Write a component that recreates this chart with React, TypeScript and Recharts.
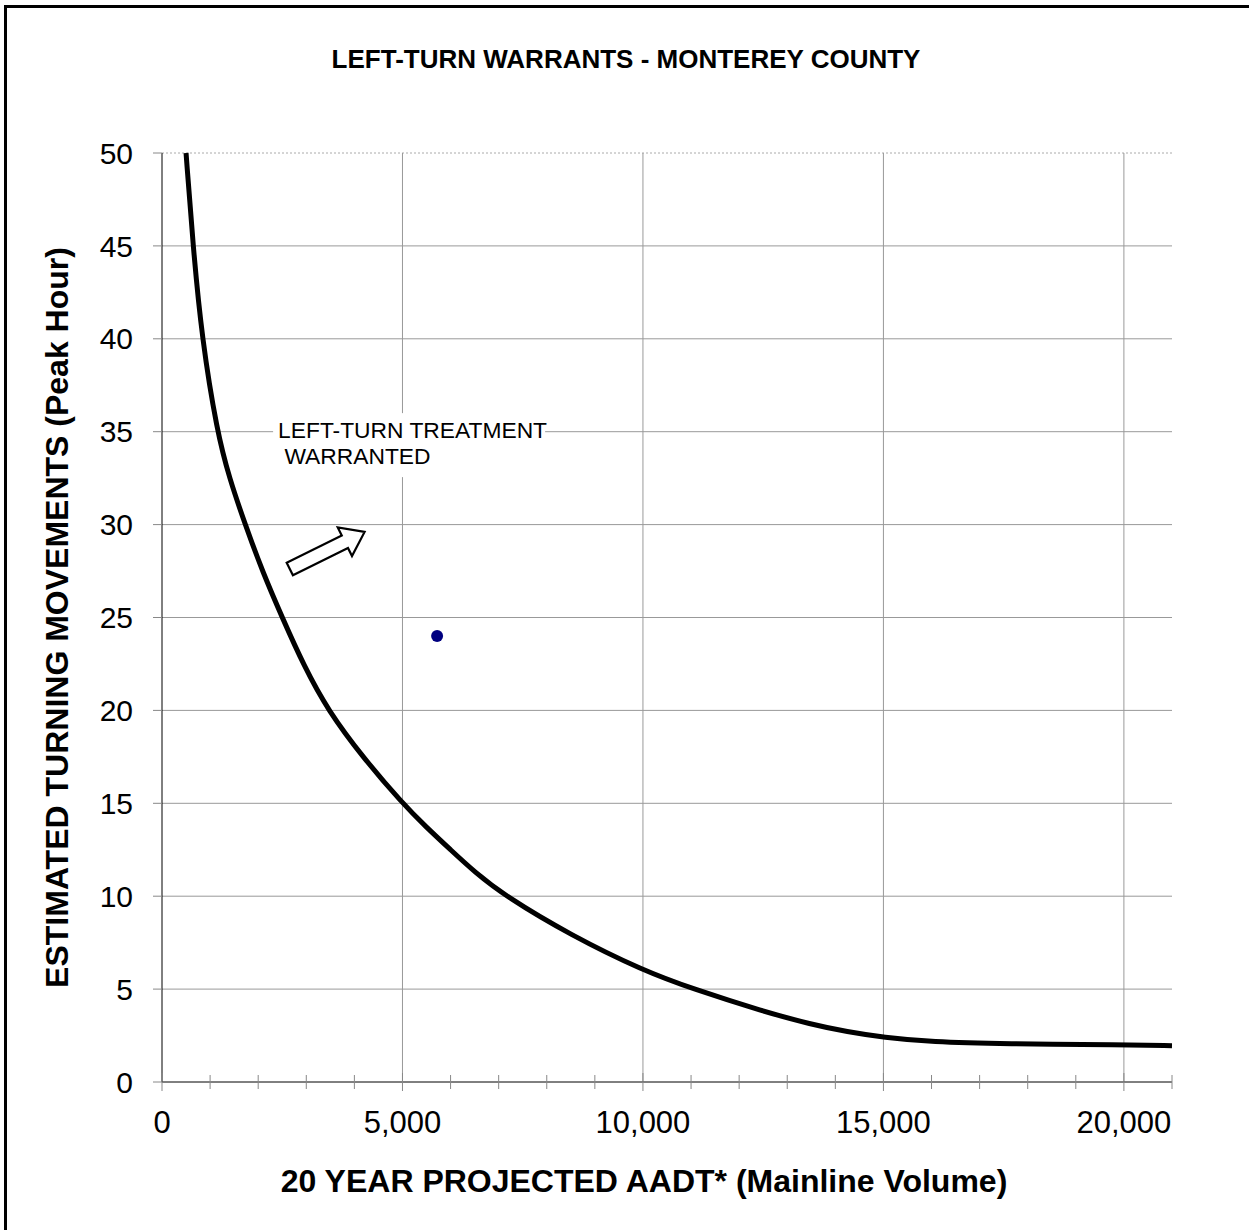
import React from 'react';
import {
    ComposedChart, Line, Scatter, XAxis, YAxis, CartesianGrid,
    ReferenceLine, ReferenceDot, Label,
} from 'recharts';

// warrant curve
const curveAadt = [500, 645, 830, 1145, 1400, 1730, 2100, 2500, 2950, 3450, 4200, 5000, 5500, 6000, 6500, 7140, 8500, 10000, 11050, 12500, 13500, 14250, 15000, 16000, 17500, 20000, 21000];
const curveTurns = [50, 45, 40, 35, 32.5, 30, 27.4, 25, 22.4, 20, 17.4, 15, 13.7, 12.5, 11.3, 10, 7.9, 6.0, 5, 3.8, 3.1, 2.7, 2.4, 2.15, 2.05, 2.0, 1.95];

// the one surveyed intersection
const siteAadt = [5720];
const siteTurns = [24];

const xTicks = [0, 1000, 2000, 3000, 4000, 5000, 6000, 7000, 8000, 9000, 10000, 11000, 12000, 13000, 14000, 15000, 16000, 17000, 18000, 19000, 20000, 21000];
const xGrid = [5000, 10000, 15000, 20000];
const yTicks = [0, 5, 10, 15, 20, 25, 30, 35, 40, 45, 50];
const yGrid = [5, 10, 15, 20, 25, 30, 35, 40, 45];

const noteLines = ['LEFT-TURN TREATMENT', ' WARRANTED'];
const noteAnchor = { x: 2310, y: 36.0 };
const arrowAnchor = { x: 3430, y: 28.6 };

const FONT = '"Liberation Sans", Arial, sans-serif';

const curveData = curveAadt.map((x, i) => ({ x, y: curveTurns[i] }));
const siteData = siteAadt.map((x, i) => ({ x, y: siteTurns[i] }));

const XTick = (props: any) => {
    const { x, y, payload } = props;
    const v = payload.value as number;
    const major = v % 5000 === 0;
    return (
        <g>
            <line x1={x} x2={x} y1={y - (major ? 9 : 7)} y2={y + (major ? 9 : 7)} stroke="#888" />
            {major && (
                <text x={x} y={y + 51} textAnchor="middle" fontSize={31} fontFamily={FONT} fill="#000">
                    {v.toLocaleString('en-US')}
                </text>
            )}
        </g>
    );
};

const NoteBox = (props: any) => {
    const { cx, cy } = props;
    return (
        <g>
            <rect x={cx} y={cy} width={272} height={64} fill="#fff" />
            <text x={cx + 5} y={cy + 25} fontSize={22.8} fontFamily={FONT} fill="#000" style={{ whiteSpace: 'pre' }}>{noteLines[0]}</text>
            <text x={cx + 5} y={cy + 51} fontSize={22.8} fontFamily={FONT} fill="#000" style={{ whiteSpace: 'pre' }}>{noteLines[1]}</text>
        </g>
    );
};

const Arrow = (props: any) => {
    const { cx, cy } = props;
    const pts = '-41.5,-7 20,-7 20,-16 42,0 20,16 20,7 -41.5,7';
    return (
        <polygon
            points={pts}
            transform={`translate(${cx},${cy}) rotate(-26.4)`}
            fill="#fff"
            stroke="#000"
            strokeWidth={2.2}
            strokeLinejoin="miter"
        />
    );
};

const App: React.FC = () => {
    return (
        <div style={{ position: 'absolute', left: 0, top: 0, width: 1249, height: 1230, overflow: 'hidden', background: '#fff' }}>
            <div style={{ position: 'absolute', left: 4, top: 5, width: 1400, height: 1400, borderTop: '3px solid #000', borderLeft: '3px solid #000' }} />
            <div style={{
                position: 'absolute', left: 0, top: 46, width: 1252, textAlign: 'center',
                fontFamily: FONT, fontWeight: 'bold', fontSize: 26, lineHeight: '26px',
            }}>
                LEFT-TURN WARRANTS - MONTEREY COUNTY
            </div>
            <div style={{ position: 'absolute', left: 0, top: 0 }}>
                <ComposedChart width={1249} height={1230} margin={{ top: 153, right: 77, bottom: 0, left: 0 }}>
                    <CartesianGrid vertical={false} horizontal={false} />
                    {yGrid.map(v => (
                        <ReferenceLine key={`h${v}`} y={v} stroke="#999" />
                    ))}
                    <ReferenceLine y={50} stroke="#aaa" strokeDasharray="2 2" />
                    {xGrid.map(v => (
                        <ReferenceLine key={`v${v}`} x={v} stroke="#999" />
                    ))}
                    <XAxis
                        type="number"
                        dataKey="x"
                        domain={[0, 21000]}
                        ticks={xTicks}
                        interval={0}
                        height={148}
                        tickLine={false}
                        tickSize={0}
                        tickMargin={0}
                        axisLine={{ stroke: '#000' }}
                        tick={<XTick />}
                    >
                        <Label
                            content={(p: any) => {
                                const vb = p.viewBox || { x: 162, y: 1082, width: 1010, height: 148 };
                                return (
                                    <text x={vb.x + vb.width / 2 - 23} y={vb.y + 110} textAnchor="middle"
                                        fontSize={32} fontWeight="bold" fontFamily={FONT} fill="#000">
                                        20 YEAR PROJECTED AADT* (Mainline Volume)
                                    </text>
                                );
                            }}
                        />
                    </XAxis>
                    <YAxis
                        type="number"
                        domain={[0, 50]}
                        ticks={yTicks}
                        interval={0}
                        width={162}
                        tickSize={9}
                        tickMargin={20}
                        tickLine={{ stroke: '#888' }}
                        axisLine={{ stroke: '#000' }}
                        tick={{ fontSize: 30, fontFamily: FONT, fill: '#000' }}
                    >
                        <Label
                            content={(p: any) => {
                                const vb = p.viewBox || { x: 0, y: 153, width: 162, height: 929 };
                                const cx = vb.x + 68;
                                const cy = vb.y + vb.height / 2;
                                return (
                                    <text x={cx} y={cy} transform={`rotate(-90, ${cx}, ${cy})`} textAnchor="middle"
                                        fontSize={32} fontWeight="bold" fontFamily={FONT} fill="#000">
                                        ESTIMATED TURNING MOVEMENTS (Peak Hour)
                                    </text>
                                );
                            }}
                        />
                    </YAxis>
                    <ReferenceDot x={noteAnchor.x} y={noteAnchor.y} shape={<NoteBox />} />
                    <ReferenceDot x={arrowAnchor.x} y={arrowAnchor.y} shape={<Arrow />} />
                    <Line
                        data={curveData}
                        dataKey="y"
                        type="basis"
                        stroke="#000"
                        strokeWidth={5}
                        dot={false}
                        activeDot={false}
                        isAnimationActive={false}
                    />
                    <Scatter
                        data={siteData}
                        dataKey="y"
                        fill="#000080"
                        shape={(p: any) => <circle cx={p.cx} cy={p.cy} r={6} fill="#000080" />}
                        isAnimationActive={false}
                    />
                </ComposedChart>
            </div>
        </div>
    );
};

export default App;
